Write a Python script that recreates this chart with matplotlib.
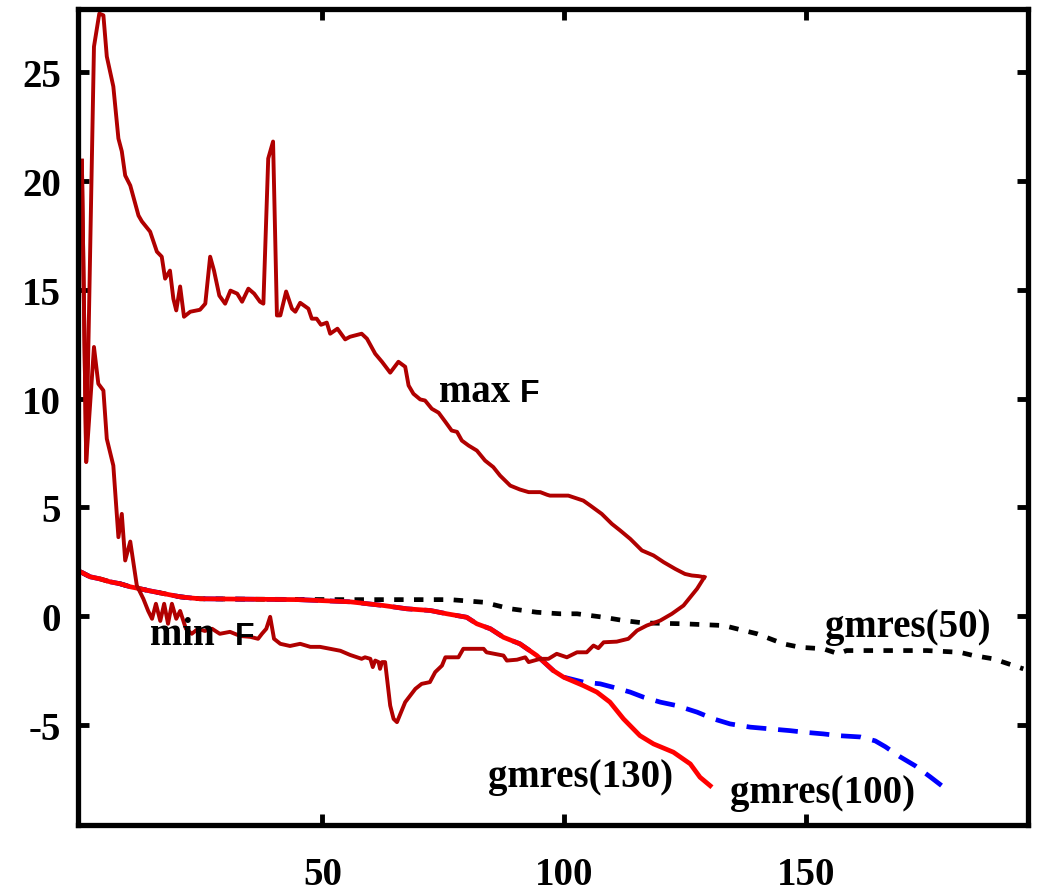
import matplotlib
matplotlib.use("Agg")
import matplotlib.pyplot as plt
import numpy as np

# max F (iteration, value)
maxf_x = [0.3, 1.2, 2.8, 3.9, 4.75, 5.45, 6.8, 7.85, 8.55, 9.25, 10.3, 12.0, 12.7, 14.4,
          15.8, 16.8, 17.5, 18.5, 19.2, 19.8, 20.6, 21.4, 22.7, 24.7, 25.8, 26.8, 27.6,
          28.7, 29.9, 31.0, 32.4, 33.4, 34.7, 35.9, 37.1, 37.8, 38.8, 39.8, 40.6, 41.3,
          42.5, 43.7, 44.4, 45.4, 47.1, 47.8, 48.8, 49.7, 50.9, 51.6, 53.1, 54.7, 55.7,
          58.1, 59.2, 60.9, 62.3, 64.0, 65.7, 67.1, 67.8, 68.8, 70.2, 71.2, 72.6, 74.0,
          75.4, 76.7, 77.8, 78.8, 80.2, 81.9, 83.6, 85.3, 86.7, 88.8, 90.8, 92.6, 95.0,
          96.4, 97.0, 100.8, 103.9, 105.3, 107.7, 109.8, 111.5, 113.6, 116.0, 118.4,
          120.5, 122.9, 124.9, 126.3, 127.7, 128.9]
maxf_y = [20.93, 7.09, 26.17, 27.69, 27.61, 25.72, 24.34, 21.95, 21.36, 20.25, 19.79, 18.41,
          18.14, 17.67, 16.75, 16.52, 15.51, 15.88, 14.59, 14.05, 15.15, 13.76, 13.99, 14.08,
          14.36, 16.52, 15.88, 14.73, 14.36, 14.96, 14.82, 14.45, 15.05, 14.82, 14.45, 14.36,
          21.03, 21.81, 13.82, 13.82, 14.92, 14.13, 13.99, 14.40, 14.13, 13.67, 13.67, 13.39,
          13.49, 12.98, 13.21, 12.72, 12.84, 12.98, 12.75, 12.06, 11.69, 11.19, 11.69, 11.46,
          10.60, 10.22, 9.96, 9.91, 9.53, 9.35, 8.93, 8.53, 8.47, 8.07, 7.84, 7.61, 7.15,
          6.85, 6.46, 6.00, 5.82, 5.70, 5.70, 5.58, 5.54, 5.54, 5.31, 5.09, 4.70, 4.24, 3.94,
          3.55, 3.02, 2.79, 2.48, 2.17, 1.94, 1.87, 1.84, 1.79]

# min F
minf_x = [0.3, 1.2, 2.8, 3.7, 4.75, 5.45, 6.8, 7.85, 8.55, 9.25, 10.3, 11.65, 13.0, 14.0,
          14.8, 15.6, 16.5, 17.3, 18.1, 18.9, 19.8, 20.6, 21.8, 23.0, 24.3, 25.7, 27.2,
          28.8, 30.9, 33.0, 35.1, 36.7, 37.5, 38.4, 39.2, 40.0, 41.3, 43.3, 45.4, 47.5,
          49.5, 51.6, 53.7, 55.7, 58.1, 58.8, 59.9, 60.4, 60.9, 61.6, 61.9, 62.3, 62.95,
          64.0, 64.7, 65.4, 67.1, 69.2, 70.5, 72.2, 73.3, 74.7, 75.4, 78.1, 79.1, 83.3,
          83.9, 87.4, 88.1, 90.2, 91.9, 92.6, 95.0, 96.7, 98.4, 100.5, 102.6, 104.6, 106.0,
          107.0, 108.1, 110.8, 113.2, 115.0, 117.0, 119.8, 122.2, 124.6, 127.4, 128.9]
minf_y = [20.93, 7.09, 12.37, 10.68, 10.37, 8.15, 6.92, 3.63, 4.70, 2.56, 3.43, 1.41, 0.80,
          0.24, -0.12, 0.57, -0.22, 0.57, -0.35, 0.57, -0.12, 0.24, -0.58, -0.81, -0.58,
          -0.68, -0.58, -0.81, -0.72, -0.91, -0.95, -1.04, -0.81, -0.58, -0.03, -1.04,
          -1.27, -1.37, -1.27, -1.41, -1.41, -1.50, -1.59, -1.78, -1.96, -1.89, -1.96,
          -2.34, -2.04, -2.11, -2.42, -2.11, -2.11, -4.11, -4.72, -4.87, -3.95, -3.34,
          -3.11, -3.03, -2.57, -2.27, -1.89, -1.89, -1.50, -1.50, -1.66, -1.81, -2.04,
          -2.00, -1.89, -2.11, -1.96, -1.96, -1.73, -1.89, -1.66, -1.66, -1.35, -1.47,
          -1.20, -1.17, -1.04, -0.66, -0.43, -0.20, 0.11, 0.49, 1.26, 1.79]

# gmres(130)
g130_x = [0.0, 2.0, 4.1, 6.1, 8.2, 10.3, 12.3, 14.4, 16.5, 18.5, 20.6, 22.7, 24.7, 35.0,
          45.0, 55.7, 62.6, 67.4, 72.3, 75.7, 79.8, 81.9, 84.7, 87.4, 90.8, 94.3, 97.7,
          99.8, 103.9, 106.7, 109.4, 112.2, 115.6, 118.4, 122.5, 126.0, 128.0, 130.1]
g130_y = [2.04, 1.81, 1.71, 1.58, 1.49, 1.35, 1.26, 1.16, 1.07, 0.98, 0.89, 0.84, 0.80, 0.78,
          0.76, 0.66, 0.49, 0.34, 0.26, 0.11, -0.05, -0.35, -0.58, -0.97, -1.27, -1.81,
          -2.50, -2.80, -3.19, -3.49, -3.95, -4.72, -5.49, -5.87, -6.25, -6.79, -7.40, -7.79]

# gmres(100)
g100_x = [0.0, 2.0, 4.1, 6.1, 8.2, 10.3, 12.3, 14.4, 16.5, 18.5, 20.6, 22.7, 24.7, 35.0,
          45.0, 55.7, 62.6, 67.4, 72.3, 75.7, 79.8, 81.9, 84.7, 87.4, 90.8, 94.3, 97.7,
          99.8, 103.9, 107.4, 110.8, 113.6, 116.3, 119.8, 123.2, 127.4, 130.8, 134.2, 138.4,
          142.5, 146.6, 149.4, 153.5, 156.6, 161.1, 164.2, 166.3, 169.4, 172.5, 175.6, 178.0]
g100_y = [2.04, 1.81, 1.71, 1.58, 1.49, 1.35, 1.26, 1.16, 1.07, 0.98, 0.89, 0.84, 0.80, 0.78,
          0.76, 0.66, 0.49, 0.34, 0.26, 0.11, -0.05, -0.35, -0.58, -0.97, -1.27, -1.81,
          -2.50, -2.80, -3.03, -3.11, -3.31, -3.49, -3.72, -3.95, -4.11, -4.41, -4.72, -4.95,
          -5.10, -5.18, -5.26, -5.33, -5.41, -5.49, -5.55, -5.73, -6.00, -6.47, -6.88, -7.39,
          -7.80]

# gmres(50)
g50_x = [0.0, 2.0, 4.1, 6.1, 8.2, 10.3, 12.3, 14.4, 16.5, 18.5, 20.6, 22.7, 24.7, 35.0,
         45.0, 55.0, 65.0, 76.4, 83.3, 88.8, 94.3, 99.1, 102.6, 108.1, 112.2, 116.3, 124.6,
         132.9, 135.6, 139.8, 142.5, 145.2, 148.7, 153.5, 156.6, 158.3, 168.7, 174.9, 181.7,
         184.5, 188.6, 192.8, 194.8]
g50_y = [2.04, 1.81, 1.71, 1.58, 1.49, 1.35, 1.26, 1.16, 1.07, 0.98, 0.89, 0.84, 0.80, 0.78,
         0.77, 0.76, 0.76, 0.76, 0.64, 0.34, 0.18, 0.11, 0.11, -0.05, -0.20, -0.31, -0.35,
         -0.43, -0.58, -0.81, -1.04, -1.27, -1.43, -1.50, -1.73, -1.58, -1.58, -1.58, -1.66,
         -1.81, -1.96, -2.27, -2.42]

xticks = [50, 100, 150]
yticks = [-5, 0, 5, 10, 15, 20, 25]

serif = "Liberation Serif"
sans = "Liberation Sans"

fig = plt.figure(figsize=(10.39, 8.95), dpi=100)
ax = fig.add_axes([0.0746, 0.077, 0.9145, 0.9118])

dark = "#b00000"
ax.plot(g50_x, g50_y, color="black", lw=3.4, dashes=(2.0, 2.2))
ax.plot(g100_x, g100_y, color="#0000ff", lw=3.4, dashes=(4.2, 2.5))
ax.plot(g130_x, g130_y, color="#ff0000", lw=3.4)
ax.plot(maxf_x, maxf_y, color=dark, lw=2.8)
ax.plot(minf_x, minf_y, color=dark, lw=2.8)

ax.set_xlim(-0.6, 195.7)
ax.set_ylim(-9.6, 27.9)
ax.set_xticks(xticks)
ax.set_yticks(yticks)
ax.set_xticklabels([str(t) for t in xticks], fontfamily=serif, fontweight="bold", fontsize=28)
ax.set_yticklabels([str(t) for t in yticks], fontfamily=serif, fontweight="bold", fontsize=28)
ax.tick_params(axis="both", direction="in", length=8, width=3.5,
               top=True, right=True)
ax.tick_params(axis="x", pad=22)
ax.tick_params(axis="y", pad=12)
for s in ax.spines.values():
    s.set_linewidth(3.8)

tkw = dict(fontfamily=serif, fontweight="bold", fontsize=28, va="baseline", ha="left")
fkw = dict(fontfamily=sans, fontweight="bold", fontsize=23, va="baseline", ha="left")
ax.text(74.0, 9.9, "max", **tkw)
ax.text(90.7, 9.9, "F", **fkw)
ax.text(14.4, -1.27, "min", **tkw)
ax.text(32.0, -1.27, "F", **fkw)
ax.text(84.3, -7.82, "gmres(130)", **tkw)
ax.text(134.2, -8.55, "gmres(100)", **tkw)
ax.text(153.9, -0.89, "gmres(50)", **tkw)

fig.savefig("out.png", dpi=100)
